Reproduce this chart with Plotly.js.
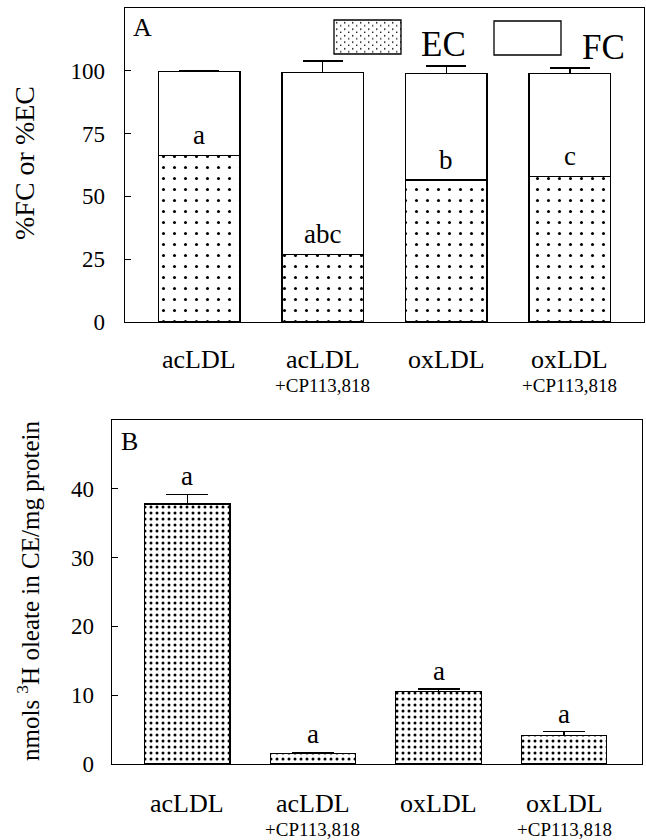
<!DOCTYPE html>
<html>
<head>
<meta charset="utf-8">
<script src="https://cdn.plot.ly/plotly-3.0.1.min.js"></script>
<style>
  html, body { margin: 0; padding: 0; background: #fff; }
  #chart { width: 646px; height: 840px; }
</style>
</head>
<body>
<div id="chart"></div>
<script>
// ---------- data ----------
const treatments = ['acLDL', 'acLDL', 'oxLDL', 'oxLDL'];
const treatmentSub = ['', '+CP113,818', '', '+CP113,818'];

// Panel A: % esterified (EC) and free (FC) cholesterol
const pctEC = [66.4, 27.0, 56.5, 58.0];
const pctFC = [33.3, 72.4, 42.5, 40.8];
const pctFCerr = [0.4, 4.5, 2.9, 2.3];
const lettersA = ['a', 'abc', 'b', 'c'];

// Panel B: nmols 3H oleate in CE / mg protein
const oleateCE = [37.8, 1.55, 10.5, 4.15];
const oleateErr = [1.4, 0.15, 0.4, 0.55];
const lettersB = ['a', 'a', 'a', 'a'];

const yTicksA = [0, 25, 50, 75, 100];
const yTicksB = [0, 10, 20, 30, 40];

// ---------- styling ----------
const W = 646, H = 840;
const SERIF = 'Liberation Serif';
const px = v => v / W;
const py = v => 1 - v / H;
const idx = treatments.map((_, i) => i);

const traces = [
  {
    type: 'bar', x: idx, y: pctEC, name: 'EC', xaxis: 'x', yaxis: 'y',
    width: 0.66,
    marker: { color: '#fff', line: { color: '#000', width: 1.2 },
      pattern: { shape: '.', fgcolor: '#000', bgcolor: '#fff', size: 11, solidity: 0.06 } },
    hoverinfo: 'skip', showlegend: false
  },
  {
    type: 'bar', x: idx, y: pctFC, name: 'FC', xaxis: 'x', yaxis: 'y',
    width: 0.66,
    marker: { color: '#fff', line: { color: '#000', width: 1.2 } },
    error_y: { type: 'data', symmetric: false, array: pctFCerr, arrayminus: pctFCerr.map(() => 0),
      color: '#000', thickness: 1.3, width: 20 },
    hoverinfo: 'skip', showlegend: false
  },
  {
    type: 'bar', x: idx, y: oleateCE, name: 'CE', xaxis: 'x2', yaxis: 'y2',
    width: 0.68,
    marker: { color: '#fff', line: { color: '#000', width: 1.2 },
      pattern: { shape: '.', fgcolor: '#000', bgcolor: '#fff', size: 6, solidity: 0.2 } },
    error_y: { type: 'data', symmetric: false, array: oleateErr, arrayminus: oleateErr.map(() => 0),
      color: '#000', thickness: 1.3, width: 21 },
    hoverinfo: 'skip', showlegend: false
  }
];

const annotations = [];
// x labels
[['x', py(359), py(386)], ['x2', py(803), py(829)]].forEach(([xr, yMain, ySub]) => {
  idx.forEach(i => {
    annotations.push({ xref: xr, yref: 'paper', x: i, y: yMain, text: treatments[i], showarrow: false,
      font: { family: SERIF, size: 26, color: '#000' }, xanchor: 'center', yanchor: 'middle' });
    if (treatmentSub[i]) {
      annotations.push({ xref: xr, yref: 'paper', x: i, y: ySub, text: treatmentSub[i], showarrow: false,
        font: { family: SERIF, size: 19, color: '#000' }, xanchor: 'center', yanchor: 'middle' });
    }
  });
});
// significance letters
idx.forEach(i => {
  annotations.push({ xref: 'x', yref: 'y', x: i, y: pctEC[i] + 8, text: lettersA[i], showarrow: false,
    font: { family: SERIF, size: 27, color: '#000' }, xanchor: 'center', yanchor: 'middle' });
  annotations.push({ xref: 'x2', yref: 'y2', x: i, y: oleateCE[i] + oleateErr[i], text: lettersB[i], showarrow: false,
    font: { family: SERIF, size: 27, color: '#000' }, xanchor: 'center', yanchor: 'bottom', yshift: 1 });
});
// panel letters
annotations.push({ xref: 'paper', yref: 'paper', x: px(131), y: py(28), text: 'A', showarrow: false,
  font: { family: SERIF, size: 26, color: '#000' }, xanchor: 'left', yanchor: 'middle' });
annotations.push({ xref: 'paper', yref: 'paper', x: px(119), y: py(441), text: 'B', showarrow: false,
  font: { family: SERIF, size: 26, color: '#000' }, xanchor: 'left', yanchor: 'middle' });
// y titles
annotations.push({ xref: 'paper', yref: 'paper', x: px(25), y: py(163), text: '%FC or %EC', textangle: -90,
  showarrow: false, font: { family: SERIF, size: 28, color: '#000' }, xanchor: 'center', yanchor: 'middle' });
annotations.push({ xref: 'paper', yref: 'paper', x: px(28), y: py(591), text: 'nmols <sup>3</sup>H oleate in CE/mg protein',
  textangle: -90, showarrow: false, font: { family: SERIF, size: 25, color: '#000' }, xanchor: 'center', yanchor: 'middle' });
// legend text
annotations.push({ xref: 'paper', yref: 'paper', x: px(419), y: py(44), text: 'EC', showarrow: false,
  font: { family: SERIF, size: 35, color: '#000' }, xanchor: 'left', yanchor: 'middle' });
annotations.push({ xref: 'paper', yref: 'paper', x: px(580), y: py(47), text: 'FC', showarrow: false,
  font: { family: SERIF, size: 35, color: '#000' }, xanchor: 'left', yanchor: 'middle' });

const dotSvg = "<svg xmlns='http://www.w3.org/2000/svg' width='67' height='34'>" +
  "<defs><pattern id='p' width='8' height='6.5' patternUnits='userSpaceOnUse'>" +
  "<rect x='2' y='2' width='1.4' height='1.4' fill='black'/><rect x='6' y='5.2' width='1.4' height='1.2' fill='black'/></pattern></defs>" +
  "<rect width='67' height='34' fill='white'/><rect width='67' height='34' fill='url(#p)'/></svg>";

const axisBase = {
  showgrid: false, zeroline: false, showline: true, mirror: true, linecolor: '#000', linewidth: 1.3,
  fixedrange: true
};

const layout = {
  width: W, height: H,
  margin: { l: 0, r: 0, t: 0, b: 0 },
  paper_bgcolor: '#fff', plot_bgcolor: '#fff',
  barmode: 'stack',
  showlegend: false,
  xaxis: Object.assign({}, axisBase, { domain: [px(125), px(644)], range: [-0.6, 3.6], showticklabels: false, ticks: '', anchor: 'y' }),
  yaxis: Object.assign({}, axisBase, { domain: [py(322), py(8)], range: [0, 125], tickvals: yTicksA,
    ticks: 'inside', ticklen: 6, tickcolor: '#000', ticklabelstandoff: 14,
    tickfont: { family: SERIF, size: 23, color: '#000' }, anchor: 'x' }),
  xaxis2: Object.assign({}, axisBase, { domain: [px(112), px(642)], range: [-0.6, 3.62], showticklabels: false, ticks: '', anchor: 'y2' }),
  yaxis2: Object.assign({}, axisBase, { domain: [py(764), py(420)], range: [0, 50], tickvals: yTicksB,
    ticks: 'inside', ticklen: 6, tickcolor: '#000', ticklabelstandoff: 12,
    tickfont: { family: SERIF, size: 23, color: '#000' }, anchor: 'x2' }),
  annotations: annotations,
  images: [{
    source: 'data:image/svg+xml;charset=utf-8,' + encodeURIComponent(dotSvg),
    xref: 'paper', yref: 'paper', x: px(334), y: py(20), sizex: px(67), sizey: 34 / H,
    xanchor: 'left', yanchor: 'top', sizing: 'stretch', layer: 'above'
  }],
  shapes: [
    { type: 'rect', xref: 'paper', yref: 'paper', x0: px(334), x1: px(401), y0: py(54), y1: py(20),
      line: { color: '#000', width: 1.3 }, fillcolor: 'rgba(0,0,0,0)' },
    { type: 'rect', xref: 'paper', yref: 'paper', x0: px(494), x1: px(561), y0: py(55), y1: py(21),
      line: { color: '#000', width: 1.3 }, fillcolor: '#fff' }
  ]
};

Plotly.newPlot('chart', traces, layout, { staticPlot: true, displayModeBar: false });
</script>
</body>
</html>
